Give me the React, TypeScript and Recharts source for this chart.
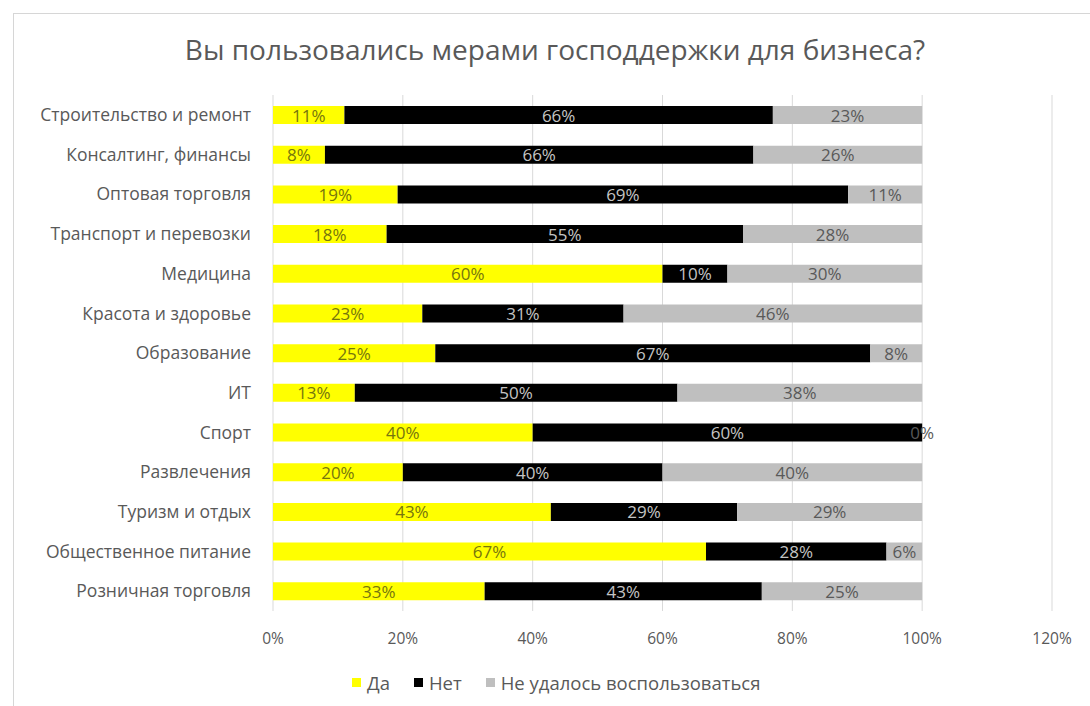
import * as React from "react";
import {
  BarChart,
  Bar,
  XAxis,
  YAxis,
  CartesianGrid,
  LabelList,
} from "recharts";

const categories = [
  "Строительство и ремонт",
  "Консалтинг, финансы",
  "Оптовая торговля",
  "Транспорт и перевозки",
  "Медицина",
  "Красота и здоровье",
  "Образование",
  "ИТ",
  "Спорт",
  "Развлечения",
  "Туризм и отдых",
  "Общественное питание",
  "Розничная торговля",
];

// shares in %
const yesValues = [11, 8, 19.2, 17.5, 60, 23, 25, 12.6, 40, 20, 42.8, 66.7, 32.6];
const noValues = [66, 66, 69.4, 54.9, 10, 31, 67, 49.7, 60, 40, 28.7, 27.8, 42.7];
const failValues = [23, 26, 11.4, 27.6, 30, 46, 8, 37.7, 0, 40, 28.5, 5.5, 24.7];

const xTicks = [0, 20, 40, 60, 80, 100, 120];

const seriesNames = ["Да", "Нет", "Не удалось воспользоваться"];

const data = categories.map((name, i) => ({
  name,
  yes: yesValues[i],
  no: noValues[i],
  fail: failValues[i],
}));

const textColor = "#595959";
const font = "'Open Sans', sans-serif";
const fmt = (v: any) => `${Math.round(Number(v))}%`;

const legendItems = [
  { name: seriesNames[0], color: "#ffff00" },
  { name: seriesNames[1], color: "#000000" },
  { name: seriesNames[2], color: "#bfbfbf" },
];

function makeLabel(color: string) {
  return (props: any) => {
    const { x, y, width, height, value } = props;
    if (value == null) return null;
    return (
      <text
        x={Number(x) + Number(width) / 2}
        y={Number(y) + Number(height) / 2}
        textAnchor="middle"
        dominantBaseline="central"
        fill={color}
        fontSize={17}
        fontFamily={font}
      >
        {fmt(value)}
      </text>
    );
  };
}

// recharts drops zero-width segments, so a 0 in the last series is labelled at the end of the stack
const zeroFailLabel = (props: any) => {
  const { x, y, width, height, value } = props;
  if (value !== 0) return null;
  return (
    <text
      x={Number(x) + Number(width)}
      y={Number(y) + Number(height) / 2}
      textAnchor="middle"
      dominantBaseline="central"
      fill="#595959"
      fontSize={17}
      fontFamily={font}
    >
      {fmt(value)}
    </text>
  );
};

function ChartLegend() {
  return (
    <div
      style={{
        position: "absolute",
        left: 352,
        top: 670,
        display: "flex",
        gap: 24,
        fontFamily: font,
        fontSize: 18.5,
        color: textColor,
        whiteSpace: "nowrap",
      }}
    >
      {legendItems.map((item) => (
        <div key={item.name} style={{ display: "flex", alignItems: "center", gap: 6 }}>
          <span style={{ width: 9, height: 9, background: item.color, display: "inline-block" }} />
          <span>{item.name}</span>
        </div>
      ))}
    </div>
  );
}

export default function App() {
  return (
    <div
      style={{
        position: "absolute",
        left: 0,
        top: 0,
        width: 1090,
        height: 706,
        background: "#ffffff",
        overflow: "hidden",
      }}
    >
      <div
        style={{
          position: "absolute",
          left: 13,
          top: 13,
          width: 1100,
          height: 720,
          border: "1px solid #d6d6d6",
        }}
      />
      <div
        style={{
          position: "absolute",
          left: 10,
          top: 30,
          width: 1090,
          textAlign: "center",
          fontFamily: font,
          fontSize: 28,
          color: textColor,
        }}
      >
        Вы пользовались мерами господдержки для бизнеса?
      </div>
      <div style={{ position: "absolute", left: 0, top: 0 }}>
        <BarChart
          width={1090}
          height={706}
          data={data}
          layout="vertical"
          margin={{ top: 95, right: 38, bottom: 65, left: 0 }}
          barSize={18}
        >
          <CartesianGrid horizontal={false} stroke="#d9d9d9" />
          <XAxis
            type="number"
            domain={[0, 120]}
            ticks={xTicks}
            tickFormatter={(v) => `${v}%`}
            axisLine={false}
            tickLine={false}
            height={30}
            tick={{ fill: textColor, fontSize: 15.5, fontFamily: font }}
            tickMargin={16}
          />
          <YAxis
            type="category"
            dataKey="name"
            width={273}
            axisLine={false}
            tickLine={false}
            tickSize={0}
            tickMargin={22}
            tick={{ fill: textColor, fontSize: 17.5, fontFamily: font }}
          />
          <Bar dataKey="yes" name={seriesNames[0]} stackId="a" fill="#ffff00" isAnimationActive={false}>
            <LabelList dataKey="yes" content={makeLabel("#76760e")} />
          </Bar>
          <Bar dataKey="no" name={seriesNames[1]} stackId="a" fill="#000000" isAnimationActive={false}>
            <LabelList dataKey="no" content={makeLabel("#c4c4c4")} />
            <LabelList dataKey="fail" content={zeroFailLabel} />
          </Bar>
          <Bar dataKey="fail" name={seriesNames[2]} stackId="a" fill="#bfbfbf" isAnimationActive={false}>
            <LabelList dataKey="fail" content={makeLabel("#595959")} />
          </Bar>
        </BarChart>
      </div>
      <ChartLegend />
    </div>
  );
}
